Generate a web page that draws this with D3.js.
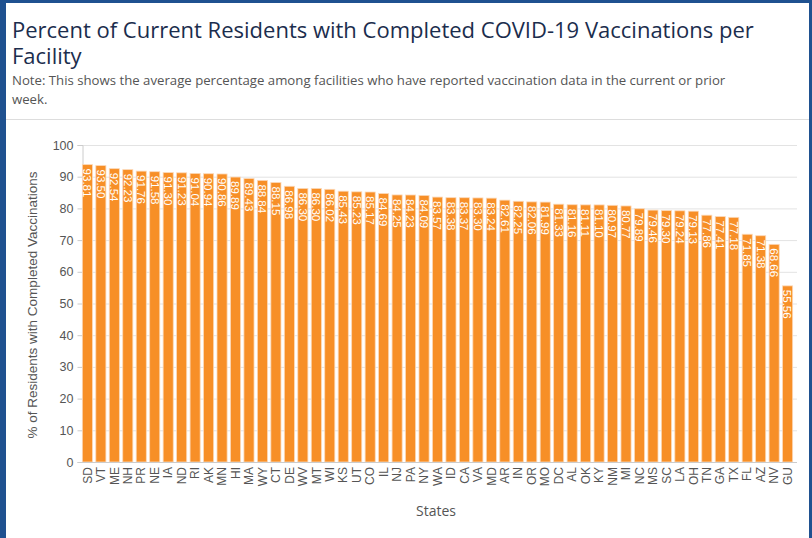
<!DOCTYPE html>
<html lang="en">
<head>
  <meta charset="UTF-8" />
  <title>Completed COVID-19 Vaccinations per Facility</title>
  <script src="https://d3js.org/d3.v7.min.js"></script>
  <style>
    body {
      margin: 0;
      background: #fff;
    }
    #frame {
      position: relative;
      width: 812px;
      height: 538px;
      box-sizing: border-box;
      border-top: 3px solid #1f5190;
      border-left: 6px solid #1f5190;
      border-right: 3px solid #1f5190;
      overflow: hidden;
    }
    h1 {
      font-family: "Open Sans", sans-serif;
      font-weight: 400;
      font-size: 22px;
      line-height: 26px;
      color: #1b2d4d;
      margin: 0;
      padding: 13px 6px 0 6px;
      width: 760px;
    }
    .note {
      font-family: "Open Sans", sans-serif;
      font-size: 13.2px;
      line-height: 19px;
      color: #555;
      margin: 3px 6px 0 6px;
      width: 740px;
    }
    .sep {
      position: absolute;
      left: 0;
      right: 0;
      top: 116px;
      border-top: 1px solid #ddd;
    }
    svg {
      position: absolute;
      left: -6px;
      top: -3px;
    }
  </style>
</head>
<body>
  <div id="frame">
    <h1>Percent of Current Residents with Completed COVID-19 Vaccinations per Facility</h1>
    <div class="note">Note: This shows the average percentage among facilities who have reported vaccination data in the current or prior week.</div>
    <div class="sep"></div>
    <div id="chart"></div>
  </div>
  <script>
    const states = ["SD", "VT", "ME", "NH", "PR", "NE", "IA", "ND", "RI", "AK", "MN", "HI", "MA", "WY", "CT", "DE",
      "WV", "MT", "WI", "KS", "UT", "CO", "IL", "NJ", "PA", "NY", "WA", "ID", "CA", "VA", "MD", "AR", "IN", "OR",
      "MO", "DC", "AL", "OK", "KY", "NM", "MI", "NC", "MS", "SC", "LA", "OH", "TN", "GA", "TX", "FL", "AZ", "NV", "GU"];
    const pct = [93.81, 93.50, 92.54, 92.23, 91.76, 91.58, 91.30, 91.23, 91.04, 90.94, 90.86, 89.89, 89.43, 88.84,
      88.15, 86.98, 86.30, 86.30, 86.02, 85.43, 85.23, 85.17, 84.69, 84.25, 84.23, 84.09, 83.57, 83.38, 83.37,
      83.30, 83.24, 82.61, 82.25, 82.06, 81.99, 81.33, 81.16, 81.11, 81.10, 80.97, 80.77, 79.89, 79.46, 79.30,
      79.24, 79.13, 77.86, 77.41, 77.18, 71.85, 71.38, 68.66, 55.56];
    const yTicks = [0, 10, 20, 30, 40, 50, 60, 70, 80, 90, 100];

    const data = states.map((s, i) => ({ state: s, value: pct[i] }));

    const width = 812, height = 538;
    const svg = d3.select("#chart").append("svg")
      .attr("width", width)
      .attr("height", height);

    const x = d3.scaleBand().domain(states).range([81, 794]).paddingInner(0.25).paddingOuter(0.1);
    const y = d3.scaleLinear().domain([0, 100]).range([462, 145]);

    // grid
    svg.append("g")
      .selectAll("line")
      .data(yTicks)
      .join("line")
      .attr("x1", 82)
      .attr("x2", 797)
      .attr("y1", d => y(d) + 0.5)
      .attr("y2", d => y(d) + 0.5)
      .attr("stroke", "#e3e3e3");

    // y axis
    const yAxis = svg.append("g")
      .attr("transform", "translate(82.5,0)")
      .call(d3.axisLeft(y).tickValues(yTicks).tickSize(5).tickPadding(4));
    yAxis.select(".domain").attr("stroke", "#ccc");
    yAxis.selectAll(".tick line").attr("stroke", "#ccc");
    yAxis.selectAll("text")
      .attr("fill", "#555")
      .style("font-family", "Liberation Sans, Arial, sans-serif")
      .style("font-size", "12.5px");

    // bars
    svg.append("g")
      .selectAll("rect")
      .data(data)
      .join("rect")
      .attr("x", d => x(d.state))
      .attr("y", d => y(d.value))
      .attr("width", x.bandwidth())
      .attr("height", d => y(0) - y(d.value))
      .attr("fill", "#f78f27")
      .attr("stroke", "#fcd9b8")
      .attr("stroke-width", 0.8);

    // value labels
    svg.append("g")
      .selectAll("text")
      .data(data)
      .join("text")
      .attr("transform", d => `translate(${x(d.state) + x.bandwidth() / 2},${y(d.value) + 4}) rotate(90)`)
      .attr("dy", "0.36em")
      .attr("fill", "#fff")
      .style("font-family", "Liberation Sans, Arial, sans-serif")
      .style("font-size", "11.5px")
      .text(d => d.value.toFixed(2));

    // x axis
    svg.append("line")
      .attr("x1", 82).attr("x2", 797)
      .attr("y1", 462.5).attr("y2", 462.5)
      .attr("stroke", "#ccc");

    svg.append("g")
      .selectAll("text")
      .data(states)
      .join("text")
      .attr("transform", d => `translate(${x(d) + x.bandwidth() / 2},467) rotate(-90)`)
      .attr("dy", "0.35em")
      .attr("text-anchor", "end")
      .attr("fill", "#555")
      .style("font-family", "Liberation Sans, Arial, sans-serif")
      .style("font-size", "12px")
      .text(d => d);

    svg.append("text")
      .attr("x", 436)
      .attr("y", 516)
      .attr("text-anchor", "middle")
      .attr("fill", "#555")
      .style("font-family", "Open Sans, sans-serif")
      .style("font-size", "14px")
      .text("States");

    svg.append("text")
      .attr("transform", "translate(37,305) rotate(-90)")
      .attr("text-anchor", "middle")
      .attr("fill", "#555")
      .style("font-family", "Liberation Sans, Arial, sans-serif")
      .style("font-size", "13.5px")
      .text("% of Residents with Completed Vaccinations");
  </script>
</body>
</html>
